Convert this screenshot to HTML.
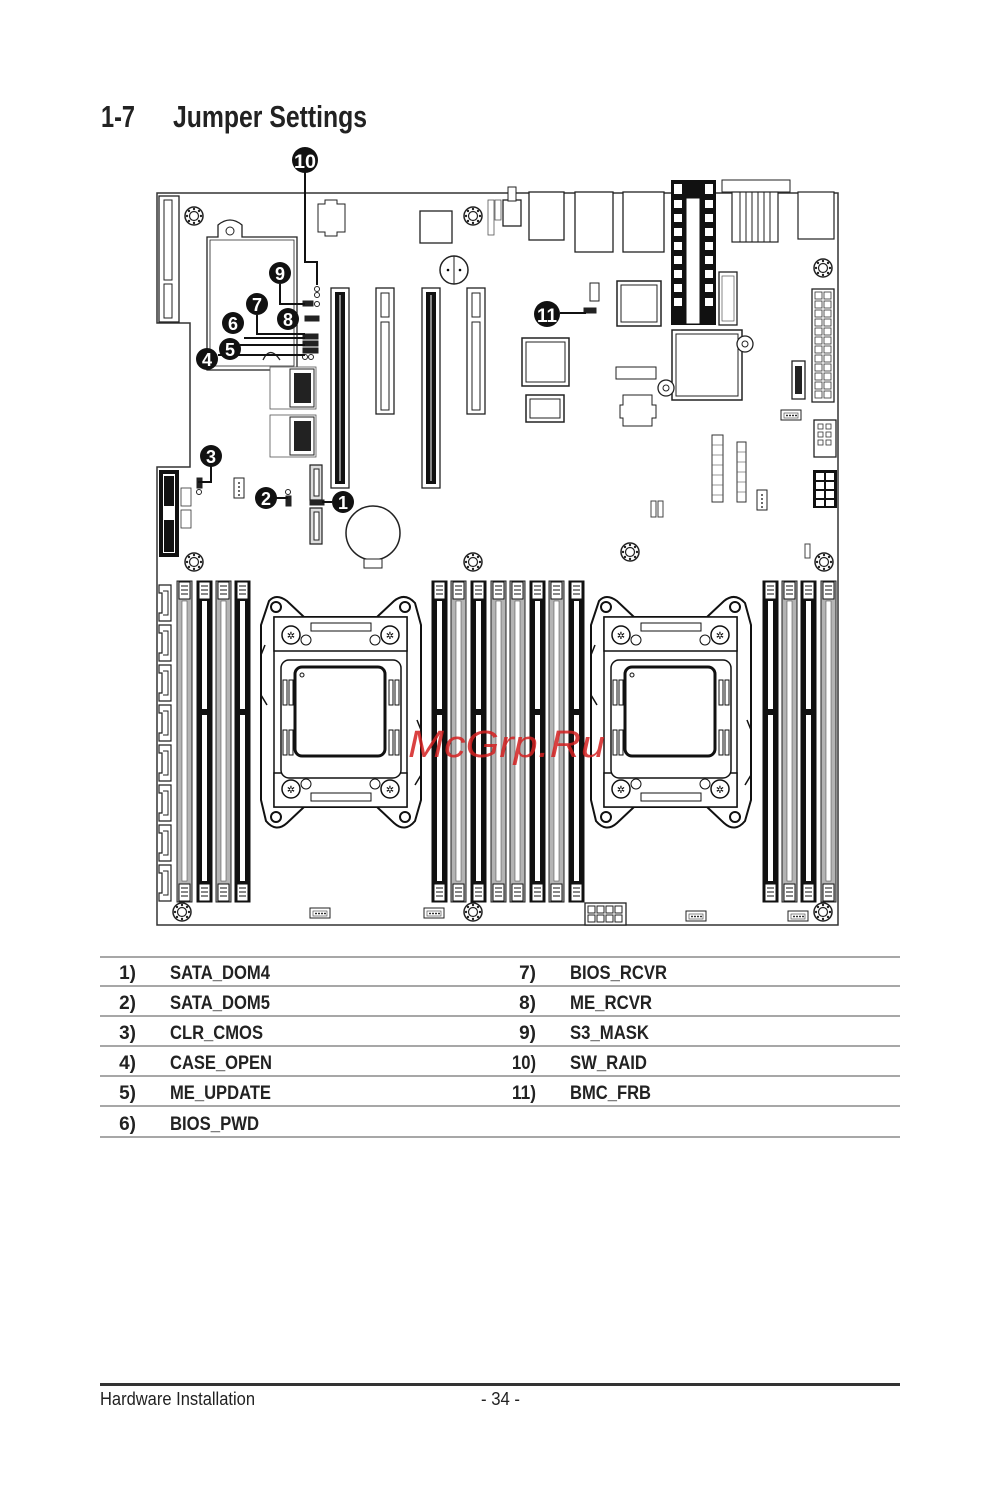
<!DOCTYPE html>
<html><head><meta charset="utf-8"><style>
html,body{margin:0;padding:0;background:#fff;}
svg{display:block;}
</style></head><body>
<svg width="1000" height="1486" viewBox="0 0 1000 1486" xmlns="http://www.w3.org/2000/svg" font-family="Liberation Sans, Arial, sans-serif">
<defs>
<symbol id="screw" overflow="visible"><circle cx="0" cy="0" r="9" fill="#fff" stroke="#222" stroke-width="1.5"/><circle cx="0" cy="0" r="4.5" fill="#fff" stroke="#222" stroke-width="1.2"/><circle cx="0" cy="-7" r="1.2" fill="#222"/><circle cx="0" cy="7" r="1.2" fill="#222"/><circle cx="-7" cy="0" r="1.2" fill="#222"/><circle cx="7" cy="0" r="1.2" fill="#222"/><circle cx="-5" cy="-5" r="1.2" fill="#222"/><circle cx="5" cy="5" r="1.2" fill="#222"/><circle cx="5" cy="-5" r="1.2" fill="#222"/><circle cx="-5" cy="5" r="1.2" fill="#222"/></symbol>
<symbol id="dimmB" overflow="visible"><rect x="0" y="0" width="15" height="321" fill="#111" stroke="#111"/><rect x="5" y="20" width="5" height="280" fill="#fff"/><rect x="5" y="128" width="5" height="6" fill="#111"/><rect x="2" y="1" width="11" height="17" fill="#fff" stroke="#111"/><line x1="4" y1="5" x2="11" y2="5" stroke="#111"/><line x1="4" y1="9" x2="11" y2="9" stroke="#111"/><line x1="4" y1="13" x2="11" y2="13" stroke="#111"/><rect x="2" y="303" width="11" height="17" fill="#fff" stroke="#111"/><line x1="4" y1="307" x2="11" y2="307" stroke="#111"/><line x1="4" y1="311" x2="11" y2="311" stroke="#111"/><line x1="4" y1="315" x2="11" y2="315" stroke="#111"/></symbol>
<symbol id="dimmG" overflow="visible"><rect x="0" y="0" width="15" height="321" fill="#b4b4b4" stroke="#222"/><rect x="5" y="20" width="5" height="280" fill="#fff" stroke="#555" stroke-width="0.6"/><rect x="2" y="1" width="11" height="17" fill="#fff" stroke="#111"/><line x1="4" y1="5" x2="11" y2="5" stroke="#111"/><line x1="4" y1="9" x2="11" y2="9" stroke="#111"/><line x1="4" y1="13" x2="11" y2="13" stroke="#111"/><rect x="2" y="303" width="11" height="17" fill="#fff" stroke="#111"/><line x1="4" y1="307" x2="11" y2="307" stroke="#111"/><line x1="4" y1="311" x2="11" y2="311" stroke="#111"/><line x1="4" y1="315" x2="11" y2="315" stroke="#111"/></symbol>
<symbol id="sock" overflow="visible">
<path d="M10,6 Q17,-2 28,6 L45,22 L118,22 L135,6 Q146,-3 156,8 L162,30 L162,205 L156,226 Q146,238 135,228 L118,212 L45,212 L28,228 Q17,238 7,226 L2,205 L2,30 Z" fill="#fff" stroke="#111" stroke-width="2"/>
<circle cx="17" cy="12" r="5" fill="#fff" stroke="#111" stroke-width="2"/><circle cx="146" cy="12" r="5" fill="#fff" stroke="#111" stroke-width="2"/>
<circle cx="17" cy="222" r="5" fill="#fff" stroke="#111" stroke-width="2"/><circle cx="146" cy="222" r="5" fill="#fff" stroke="#111" stroke-width="2"/>
<rect x="15" y="22" width="133" height="190" fill="#fff" stroke="#111" stroke-width="1.5"/>
<rect x="15" y="22" width="133" height="34" fill="#fff" stroke="#111" stroke-width="1.5"/>
<rect x="15" y="178" width="133" height="34" fill="#fff" stroke="#111" stroke-width="1.5"/>
<rect x="52" y="28" width="60" height="8" fill="#fff" stroke="#111"/>
<rect x="52" y="198" width="60" height="8" fill="#fff" stroke="#111"/>
<circle cx="32" cy="40" r="9" fill="#fff" stroke="#111" stroke-width="1.5"/><circle cx="131" cy="40" r="9" fill="#fff" stroke="#111" stroke-width="1.5"/>
<circle cx="32" cy="194" r="9" fill="#fff" stroke="#111" stroke-width="1.5"/><circle cx="131" cy="194" r="9" fill="#fff" stroke="#111" stroke-width="1.5"/>
<circle cx="47" cy="45" r="5" fill="#fff" stroke="#111"/><circle cx="116" cy="45" r="5" fill="#fff" stroke="#111"/>
<circle cx="47" cy="189" r="5" fill="#fff" stroke="#111"/><circle cx="116" cy="189" r="5" fill="#fff" stroke="#111"/>
<text x="32" y="44" font-size="10" text-anchor="middle">✲</text><text x="131" y="44" font-size="10" text-anchor="middle">✲</text>
<text x="32" y="198" font-size="10" text-anchor="middle">✲</text><text x="131" y="198" font-size="10" text-anchor="middle">✲</text>
<rect x="22" y="65" width="120" height="118" rx="8" fill="#fff" stroke="#111" stroke-width="1.5"/>
<rect x="36" y="72" width="90" height="89" rx="7" fill="#fff" stroke="#111" stroke-width="3"/>
<circle cx="43" cy="80" r="2" fill="none" stroke="#111"/>
<rect x="24" y="85" width="4" height="25" fill="#fff" stroke="#111"/><rect x="30" y="85" width="4" height="25" fill="#fff" stroke="#111"/>
<rect x="130" y="85" width="4" height="25" fill="#fff" stroke="#111"/><rect x="136" y="85" width="4" height="25" fill="#fff" stroke="#111"/>
<rect x="24" y="135" width="4" height="25" fill="#fff" stroke="#111"/><rect x="30" y="135" width="4" height="25" fill="#fff" stroke="#111"/>
<rect x="130" y="135" width="4" height="25" fill="#fff" stroke="#111"/><rect x="136" y="135" width="4" height="25" fill="#fff" stroke="#111"/>
<path d="M6,50 L2,60 L2,100 L8,110" fill="none" stroke="#111" stroke-width="1.5"/>
<path d="M158,125 L162,135 L162,180 L156,190" fill="none" stroke="#111" stroke-width="1.5"/>
</symbol>
<symbol id="sata" overflow="visible"><path d="M0,0 H12 V36 H0 V28 H3 V8 H0 Z" fill="#fff" stroke="#222" stroke-width="1.2"/><path d="M4,6 H9 V30 H4" fill="none" stroke="#222"/></symbol>
<symbol id="fan" overflow="visible"><rect x="0" y="0" width="20" height="10" fill="#fff" stroke="#222"/><rect x="3" y="3" width="14" height="5" fill="#fff" stroke="#555" stroke-width="0.7"/><circle cx="6" cy="5.5" r="0.9"/><circle cx="9" cy="5.5" r="0.9"/><circle cx="12" cy="5.5" r="0.9"/><circle cx="15" cy="5.5" r="0.9"/></symbol>
<symbol id="fanv" overflow="visible"><rect x="0" y="0" width="10" height="20" fill="#fff" stroke="#222"/><circle cx="5" cy="5" r="0.9"/><circle cx="5" cy="9" r="0.9"/><circle cx="5" cy="13" r="0.9"/><circle cx="5" cy="17" r="0.9"/></symbol>
</defs>

<!-- Title -->
<text x="101" y="127" font-size="31" font-weight="bold" fill="#222" textLength="34" lengthAdjust="spacingAndGlyphs">1-7</text>
<text x="173" y="127" font-size="31" font-weight="bold" fill="#222" textLength="194" lengthAdjust="spacingAndGlyphs">Jumper Settings</text>

<!-- Board outline -->
<path d="M157,193 H838 V925 H157 V467 H190 V323 H157 Z" fill="#fff" stroke="#333" stroke-width="1.5"/>

<!-- left riser slot -->
<rect x="159" y="196" width="20" height="126" fill="#fff" stroke="#222" stroke-width="1.3"/>
<rect x="164" y="200" width="8" height="80" fill="#fff" stroke="#222"/>
<rect x="164" y="284" width="8" height="34" fill="#fff" stroke="#222"/>
<!-- left bottom riser -->
<rect x="159" y="470" width="20" height="87" fill="#111"/>
<rect x="163" y="474" width="12" height="79" fill="#fff"/>
<rect x="164" y="476" width="10" height="30" fill="#111"/>
<rect x="164" y="520" width="10" height="32" fill="#111"/>
<rect x="181" y="488" width="10" height="18" fill="#fff" stroke="#333" stroke-width="0.8"/>
<rect x="181" y="510" width="10" height="18" fill="#fff" stroke="#333" stroke-width="0.8"/>

<!-- heatsink outline area -->
<path d="M207,237 H218 V225 Q230,215 242,225 V237 H297 V370 H207 Z" fill="none" stroke="#222" stroke-width="1.3"/>
<path d="M210,240 H294 V366 H210 Z" fill="none" stroke="#222" stroke-width="0.8"/>
<circle cx="230" cy="231" r="4" fill="none" stroke="#222"/>
<path d="M263,360 Q270,345 280,360" fill="none" stroke="#222" stroke-width="1.3"/>

<!-- top components -->
<path d="M318,204 H325 V200 H337 V204 H345 V232 H337 V236 H325 V232 H318 Z" fill="#fff" stroke="#222"/>
<rect x="420" y="211" width="32" height="32" fill="#fff" stroke="#222" stroke-width="1.3"/>
<rect x="488" y="200" width="6" height="35" fill="#fff" stroke="#555" stroke-width="0.8"/>
<rect x="495" y="200" width="6" height="20" fill="#fff" stroke="#555" stroke-width="0.8"/>
<rect x="503" y="200" width="18" height="26" fill="#fff" stroke="#222" stroke-width="1.3"/>
<rect x="508" y="187" width="8" height="14" fill="#fff" stroke="#222"/>
<rect x="529" y="192" width="35" height="48" fill="#fff" stroke="#222" stroke-width="1.3"/>
<rect x="575" y="192" width="38" height="60" fill="#fff" stroke="#222" stroke-width="1.3"/>
<rect x="623" y="192" width="41" height="60" fill="#fff" stroke="#222" stroke-width="1.3"/>
<!-- tall black connector -->
<rect x="671" y="180" width="45" height="145" fill="#111"/>
<rect x="686" y="198" width="14" height="126" fill="#fff" stroke="#111"/>
<g fill="#fff">
<rect x="674" y="184" width="8" height="10"/><rect x="705" y="184" width="8" height="10"/>
<rect x="674" y="200" width="8" height="8"/><rect x="674" y="214" width="8" height="8"/><rect x="674" y="228" width="8" height="8"/><rect x="674" y="242" width="8" height="8"/><rect x="674" y="256" width="8" height="8"/><rect x="674" y="270" width="8" height="8"/><rect x="674" y="284" width="8" height="8"/><rect x="674" y="298" width="8" height="8"/>
<rect x="705" y="200" width="8" height="8"/><rect x="705" y="214" width="8" height="8"/><rect x="705" y="228" width="8" height="8"/><rect x="705" y="242" width="8" height="8"/><rect x="705" y="256" width="8" height="8"/><rect x="705" y="270" width="8" height="8"/><rect x="705" y="284" width="8" height="8"/><rect x="705" y="298" width="8" height="8"/>
</g>
<!-- VGA -->
<path d="M722,180 H790 V192 H722 Z" fill="#fff" stroke="#222"/>
<rect x="732" y="192" width="46" height="50" fill="#fff" stroke="#222" stroke-width="1.2"/>
<g stroke="#222"><line x1="740" y1="192" x2="740" y2="242"/><line x1="746" y1="192" x2="746" y2="242"/><line x1="752" y1="192" x2="752" y2="242"/><line x1="758" y1="192" x2="758" y2="242"/><line x1="764" y1="192" x2="764" y2="242"/><line x1="770" y1="192" x2="770" y2="242"/></g>
<rect x="798" y="192" width="36" height="47" fill="#fff" stroke="#222" stroke-width="1.2"/>
<rect x="719" y="272" width="18" height="53" fill="#fff" stroke="#222" stroke-width="1.3"/>
<rect x="722" y="276" width="12" height="45" fill="#fff" stroke="#555" stroke-width="0.7"/>

<!-- PCIe slots -->
<rect x="331" y="288" width="18" height="200" fill="#fff" stroke="#222" stroke-width="1.3"/>
<rect x="335" y="292" width="10" height="192" fill="#111"/>
<rect x="339" y="295" width="2" height="186" fill="#888"/>
<rect x="376" y="288" width="18" height="126" fill="#fff" stroke="#222" stroke-width="1.3"/>
<rect x="381" y="293" width="8" height="24" fill="#fff" stroke="#222"/>
<rect x="381" y="322" width="8" height="88" fill="#fff" stroke="#222"/>
<rect x="422" y="288" width="18" height="200" fill="#fff" stroke="#222" stroke-width="1.3"/>
<rect x="426" y="292" width="10" height="192" fill="#111"/>
<rect x="430" y="295" width="2" height="186" fill="#888"/>
<rect x="467" y="288" width="18" height="126" fill="#fff" stroke="#222" stroke-width="1.3"/>
<rect x="472" y="293" width="8" height="24" fill="#fff" stroke="#222"/>
<rect x="472" y="322" width="8" height="88" fill="#fff" stroke="#222"/>

<!-- buzzer -->
<circle cx="454" cy="270" r="14" fill="#fff" stroke="#222" stroke-width="1.5"/>
<line x1="454" y1="256" x2="454" y2="284" stroke="#222"/>
<circle cx="448" cy="270" r="1.3"/><circle cx="460" cy="270" r="1.3"/>

<!-- mini SAS connectors -->
<rect x="270" y="367" width="46" height="42" fill="#fff" stroke="#555" stroke-width="0.8"/>
<rect x="290" y="369" width="24" height="38" fill="#fff" stroke="#222"/>
<rect x="294" y="373" width="17" height="30" fill="#222"/>
<rect x="270" y="415" width="46" height="42" fill="#fff" stroke="#555" stroke-width="0.8"/>
<rect x="290" y="417" width="24" height="38" fill="#fff" stroke="#222"/>
<rect x="294" y="421" width="17" height="30" fill="#222"/>

<!-- SATA DOM ports -->
<path d="M310,465 H322 V500 H310 Z" fill="#ddd" stroke="#222" stroke-width="1.2"/>
<path d="M314,469 H319 V496 H314 Z" fill="#fff" stroke="#222"/>
<path d="M310,508 H322 V544 H310 Z" fill="#ddd" stroke="#222" stroke-width="1.2"/>
<path d="M314,512 H319 V540 H314 Z" fill="#fff" stroke="#222"/>

<!-- battery -->
<circle cx="373" cy="533" r="27" fill="#fff" stroke="#222" stroke-width="1.5"/>
<rect x="364" y="559" width="18" height="9" fill="#fff" stroke="#222"/>

<!-- fan headers -->
<use href="#fanv" x="234" y="478"/>
<use href="#fanv" x="757" y="490"/>
<use href="#fan" x="310" y="908"/>
<use href="#fan" x="424" y="908"/>
<use href="#fan" x="686" y="911"/>
<use href="#fan" x="788" y="911"/>
<use href="#fan" x="781" y="410"/>

<!-- right-side chips -->
<rect x="617" y="281" width="44" height="45" fill="#fff" stroke="#222" stroke-width="1.5"/>
<rect x="621" y="285" width="36" height="37" fill="#fff" stroke="#222"/>
<rect x="522" y="338" width="47" height="48" fill="#fff" stroke="#222" stroke-width="1.5"/>
<rect x="526" y="342" width="39" height="40" fill="#fff" stroke="#222"/>
<rect x="526" y="395" width="38" height="27" fill="#fff" stroke="#222" stroke-width="1.5"/>
<rect x="530" y="399" width="30" height="19" fill="#fff" stroke="#222"/>
<path d="M623,395 H652 V405 H656 V418 H652 V426 H623 V418 H620 V405 H623 Z" fill="#fff" stroke="#222"/>
<rect x="616" y="367" width="40" height="12" fill="#fff" stroke="#222"/>
<rect x="672" y="330" width="70" height="70" fill="#fff" stroke="#222" stroke-width="1.5"/>
<rect x="676" y="334" width="62" height="62" fill="#fff" stroke="#222"/>
<circle cx="745" cy="344" r="8" fill="#fff" stroke="#222" stroke-width="1.3"/><circle cx="745" cy="344" r="3" fill="none" stroke="#222"/>
<circle cx="666" cy="388" r="8" fill="#fff" stroke="#222" stroke-width="1.3"/><circle cx="666" cy="388" r="3" fill="none" stroke="#222"/>
<!-- 24 pin ATX -->
<rect x="812" y="289" width="22" height="113" fill="#fff" stroke="#222" stroke-width="1.3"/>
<g fill="#fff" stroke="#333" stroke-width="0.8">
<rect x="815" y="292" width="7" height="7"/><rect x="824" y="292" width="7" height="7"/>
<rect x="815" y="301" width="7" height="7"/><rect x="824" y="301" width="7" height="7"/>
<rect x="815" y="310" width="7" height="7"/><rect x="824" y="310" width="7" height="7"/>
<rect x="815" y="319" width="7" height="7"/><rect x="824" y="319" width="7" height="7"/>
<rect x="815" y="328" width="7" height="7"/><rect x="824" y="328" width="7" height="7"/>
<rect x="815" y="337" width="7" height="7"/><rect x="824" y="337" width="7" height="7"/>
<rect x="815" y="346" width="7" height="7"/><rect x="824" y="346" width="7" height="7"/>
<rect x="815" y="355" width="7" height="7"/><rect x="824" y="355" width="7" height="7"/>
<rect x="815" y="364" width="7" height="7"/><rect x="824" y="364" width="7" height="7"/>
<rect x="815" y="373" width="7" height="7"/><rect x="824" y="373" width="7" height="7"/>
<rect x="815" y="382" width="7" height="7"/><rect x="824" y="382" width="7" height="7"/>
<rect x="815" y="391" width="7" height="7"/><rect x="824" y="391" width="7" height="7"/>
</g>
<rect x="792" y="361" width="13" height="38" fill="#fff" stroke="#222" stroke-width="1.3"/>
<rect x="795" y="366" width="7" height="28" fill="#222"/>
<rect x="814" y="420" width="22" height="37" fill="#fff" stroke="#222" stroke-width="1.3"/>
<g fill="#fff" stroke="#333" stroke-width="0.8"><rect x="818" y="424" width="5" height="5"/><rect x="826" y="424" width="5" height="5"/><rect x="818" y="432" width="5" height="5"/><rect x="826" y="432" width="5" height="5"/><rect x="818" y="440" width="5" height="5"/><rect x="826" y="440" width="5" height="5"/></g>
<rect x="813" y="470" width="24" height="38" fill="#111"/>
<g fill="#fff"><rect x="816" y="473" width="8" height="7"/><rect x="826" y="473" width="8" height="7"/><rect x="816" y="482" width="8" height="7"/><rect x="826" y="482" width="8" height="7"/><rect x="816" y="491" width="8" height="7"/><rect x="826" y="491" width="8" height="7"/><rect x="816" y="500" width="8" height="6"/><rect x="826" y="500" width="8" height="6"/></g>
<!-- pin headers -->
<rect x="712" y="435" width="11" height="67" fill="#fff" stroke="#333"/>
<rect x="737" y="442" width="9" height="60" fill="#fff" stroke="#333"/>
<g stroke="#555" stroke-width="0.6"><line x1="712" y1="445" x2="723" y2="445"/><line x1="712" y1="455" x2="723" y2="455"/><line x1="712" y1="465" x2="723" y2="465"/><line x1="712" y1="475" x2="723" y2="475"/><line x1="712" y1="485" x2="723" y2="485"/><line x1="712" y1="495" x2="723" y2="495"/>
<line x1="737" y1="452" x2="746" y2="452"/><line x1="737" y1="462" x2="746" y2="462"/><line x1="737" y1="472" x2="746" y2="472"/><line x1="737" y1="482" x2="746" y2="482"/><line x1="737" y1="492" x2="746" y2="492"/></g>
<rect x="651" y="501" width="5" height="16" fill="#fff" stroke="#444"/><rect x="658" y="501" width="5" height="16" fill="#fff" stroke="#444"/>
<rect x="805" y="544" width="5" height="14" fill="#fff" stroke="#444"/>
<!-- 8 pin power bottom -->
<rect x="585" y="903" width="41" height="22" fill="#fff" stroke="#222" stroke-width="1.3"/>
<g fill="#fff" stroke="#222"><rect x="588" y="906" width="7" height="7"/><rect x="597" y="906" width="7" height="7"/><rect x="606" y="906" width="7" height="7"/><rect x="615" y="906" width="7" height="7"/><rect x="588" y="915" width="7" height="7"/><rect x="597" y="915" width="7" height="7"/><rect x="606" y="915" width="7" height="7"/><rect x="615" y="915" width="7" height="7"/></g>

<!-- screw holes -->
<use href="#screw" x="194" y="216"/>
<use href="#screw" x="473" y="216"/>
<use href="#screw" x="823" y="268"/>
<use href="#screw" x="194" y="562"/>
<use href="#screw" x="473" y="562"/>
<use href="#screw" x="630" y="552"/>
<use href="#screw" x="824" y="562"/>
<use href="#screw" x="182" y="912"/>
<use href="#screw" x="473" y="912"/>
<use href="#screw" x="823" y="912"/>

<!-- SATA left column -->
<use href="#sata" x="159" y="585"/>
<use href="#sata" x="159" y="625"/>
<use href="#sata" x="159" y="665"/>
<use href="#sata" x="159" y="705"/>
<use href="#sata" x="159" y="745"/>
<use href="#sata" x="159" y="785"/>
<use href="#sata" x="159" y="825"/>
<use href="#sata" x="159" y="865"/>

<!-- DIMMs -->
<use href="#dimmG" x="177" y="581"/>
<use href="#dimmB" x="197" y="581"/>
<use href="#dimmG" x="216" y="581"/>
<use href="#dimmB" x="235" y="581"/>
<use href="#dimmB" x="432" y="581"/>
<use href="#dimmG" x="451" y="581"/>
<use href="#dimmB" x="471" y="581"/>
<use href="#dimmG" x="491" y="581"/>
<use href="#dimmG" x="510" y="581"/>
<use href="#dimmB" x="530" y="581"/>
<use href="#dimmG" x="549" y="581"/>
<use href="#dimmB" x="569" y="581"/>
<use href="#dimmB" x="763" y="581"/>
<use href="#dimmG" x="782" y="581"/>
<use href="#dimmB" x="801" y="581"/>
<use href="#dimmG" x="821" y="581"/>

<!-- sockets -->
<use href="#sock" x="259" y="595"/>
<use href="#sock" x="589" y="595"/>

<!-- jumpers -->
<g fill="#fff" stroke="#222" stroke-width="1">
<circle cx="317" cy="289" r="2.5"/><circle cx="317" cy="295" r="2.5"/>
<rect x="303" y="301" width="10" height="5" fill="#222"/><circle cx="317" cy="304" r="2.5"/>
<rect x="305" y="316" width="14" height="5" fill="#222"/>
<rect x="303" y="334" width="15" height="5" fill="#222"/><rect x="303" y="341" width="15" height="5" fill="#222"/><rect x="303" y="348" width="15" height="5" fill="#222"/>
<circle cx="305" cy="357" r="2.5"/><circle cx="311" cy="357" r="2.5"/>
<rect x="197" y="478" width="5" height="10" fill="#222"/><circle cx="199" cy="492" r="2.5"/>
<circle cx="288" cy="492" r="2.5"/><rect x="286" y="496" width="5" height="10" fill="#222"/>
<rect x="310" y="500" width="14" height="5" fill="#222"/>
<rect x="590" y="283" width="9" height="18"/>
<rect x="584" y="308" width="12" height="5" fill="#222"/>
</g>
<!-- leader lines -->
<g stroke="#111" stroke-width="2" fill="none">
<path d="M305,170 V262 H317 V285"/>
<path d="M280,284 V304 H305"/>
<path d="M257,315 V334 H305"/>
<path d="M244,338 H305"/>
<path d="M240,345 H305"/>
<path d="M218,355 H305"/>
<path d="M211,466 V482 H198"/>
<path d="M276,498 H288"/>
<path d="M332,502 H322"/>
<path d="M560,313 H586"/>
</g>
<!-- badges -->
<g font-weight="bold" fill="#fff" text-anchor="middle">
<circle cx="305" cy="160" r="13" fill="#111"/><text x="305" y="168" font-size="19" textLength="22" lengthAdjust="spacingAndGlyphs">10</text>
<circle cx="280" cy="273" r="11" fill="#111"/><text x="280" y="280" font-size="18">9</text>
<circle cx="257" cy="304" r="11" fill="#111"/><text x="257" y="311" font-size="18">7</text>
<circle cx="288" cy="319" r="11" fill="#111"/><text x="288" y="326" font-size="18">8</text>
<circle cx="233" cy="323" r="11" fill="#111"/><text x="233" y="330" font-size="18">6</text>
<circle cx="230" cy="349" r="11" fill="#111"/><text x="230" y="356" font-size="18">5</text>
<circle cx="207" cy="359" r="11" fill="#111"/><text x="207" y="366" font-size="18">4</text>
<circle cx="211" cy="456" r="11" fill="#111"/><text x="211" y="463" font-size="18">3</text>
<circle cx="266" cy="498" r="11" fill="#111"/><text x="266" y="505" font-size="18">2</text>
<circle cx="343" cy="502" r="11" fill="#111"/><text x="343" y="509" font-size="18">1</text>
<circle cx="547" cy="314" r="13" fill="#111"/><text x="547" y="322" font-size="19" textLength="20" lengthAdjust="spacingAndGlyphs">11</text>
</g>

<!-- watermark -->
<text x="408" y="757" font-size="38" font-style="italic" fill="#d42020" fill-opacity="0.85" textLength="197" lengthAdjust="spacingAndGlyphs">McGrp.Ru</text>

<!-- table -->
<g stroke="#8a8a8a" stroke-width="1.5">
<line x1="100" y1="957" x2="900" y2="957"/>
<line x1="100" y1="986" x2="900" y2="986"/>
<line x1="100" y1="1016" x2="900" y2="1016"/>
<line x1="100" y1="1046" x2="900" y2="1046"/>
<line x1="100" y1="1076" x2="900" y2="1076"/>
<line x1="100" y1="1106" x2="900" y2="1106"/>
<line x1="100" y1="1137" x2="900" y2="1137"/>
</g>
<g font-size="19" font-weight="bold" fill="#222">
<g text-anchor="end">
<text x="136" y="979">1)</text><text x="136" y="1009">2)</text><text x="136" y="1039">3)</text><text x="136" y="1069">4)</text><text x="136" y="1099">5)</text><text x="136" y="1130">6)</text>
<text x="536" y="979">7)</text><text x="536" y="1009">8)</text><text x="536" y="1039">9)</text><text x="536" y="1069" textLength="24" lengthAdjust="spacingAndGlyphs">10)</text><text x="536" y="1099" textLength="24" lengthAdjust="spacingAndGlyphs">11)</text>
</g>
<text x="170" y="979" textLength="100" lengthAdjust="spacingAndGlyphs">SATA_DOM4</text>
<text x="170" y="1009" textLength="100" lengthAdjust="spacingAndGlyphs">SATA_DOM5</text>
<text x="170" y="1039" textLength="93" lengthAdjust="spacingAndGlyphs">CLR_CMOS</text>
<text x="170" y="1069" textLength="102" lengthAdjust="spacingAndGlyphs">CASE_OPEN</text>
<text x="170" y="1099" textLength="101" lengthAdjust="spacingAndGlyphs">ME_UPDATE</text>
<text x="170" y="1130" textLength="89" lengthAdjust="spacingAndGlyphs">BIOS_PWD</text>
<text x="570" y="979" textLength="97" lengthAdjust="spacingAndGlyphs">BIOS_RCVR</text>
<text x="570" y="1009" textLength="82" lengthAdjust="spacingAndGlyphs">ME_RCVR</text>
<text x="570" y="1039" textLength="79" lengthAdjust="spacingAndGlyphs">S3_MASK</text>
<text x="570" y="1069" textLength="77" lengthAdjust="spacingAndGlyphs">SW_RAID</text>
<text x="570" y="1099" textLength="81" lengthAdjust="spacingAndGlyphs">BMC_FRB</text>
</g>

<!-- footer -->
<rect x="100" y="1383" width="800" height="3" fill="#333"/>
<text x="100" y="1405" font-size="18" fill="#222" textLength="155" lengthAdjust="spacingAndGlyphs">Hardware Installation</text>
<text x="481" y="1405" font-size="18" fill="#222" textLength="39" lengthAdjust="spacingAndGlyphs">- 34 -</text>
</svg>
</body></html>
